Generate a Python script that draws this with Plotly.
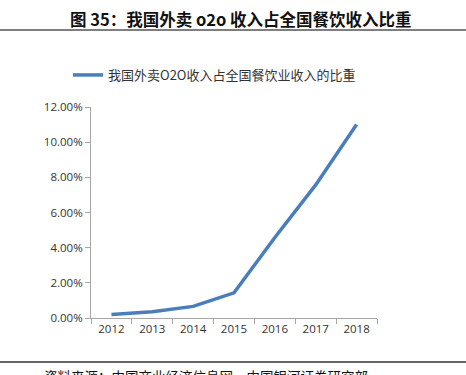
import plotly.graph_objects as go

years = ["2012", "2013", "2014", "2015", "2016", "2017", "2018"]
share = [0.0020, 0.0035, 0.0066, 0.0143, 0.0458, 0.0757, 0.1100]
series_name = "我国外卖O2O收入占全国餐饮业收入的比重"
title_text = "图 35：我国外卖 o2o 收入占全国餐饮收入比重"
source_text = "资料来源：中国商业经济信息网，中国银河证券研究部"

W, H = 466, 375
L, R, T, B = 91, 377, 107, 318

def px(x):
    return (x - L) / (R - L)

def py(y):
    return (B - y) / (B - T)

fig = go.Figure()
fig.add_trace(go.Scatter(
    x=years, y=share, mode="lines", name=series_name,
    line=dict(color="#4A7EBB", width=3.5),
))

fig.update_layout(
    width=W, height=H,
    margin=dict(l=L, r=W - R, t=T, b=H - B, autoexpand=False),
    paper_bgcolor="white", plot_bgcolor="white",
    showlegend=True,
    legend=dict(orientation="h", x=px(68), xanchor="left", y=py(75), yanchor="middle",
                font=dict(size=13, color="#333333", family="Noto Sans CJK SC"),
                itemwidth=30, bgcolor="rgba(0,0,0,0)"),
    font=dict(family="Open Sans, Liberation Sans", size=11, color="#404040"),
    xaxis=dict(type="category", range=[-0.5, 6.5], showline=True, linecolor="#A6A6A6",
               linewidth=1, ticks="outside", tickson="boundaries", ticklen=5,
               tickcolor="#A6A6A6", showgrid=False, automargin=False,
               tickfont=dict(size=11.5, color="#333333")),
    yaxis=dict(range=[0, 0.12], dtick=0.02, tickformat=".2%", showline=True,
               linecolor="#A6A6A6", linewidth=1, ticks="outside", ticklen=5,
               tickcolor="#A6A6A6", showgrid=False, zeroline=False, automargin=False,
               tickfont=dict(size=11.5, color="#333333")),
    shapes=[
        dict(type="line", xref="paper", yref="paper", x0=px(0), x1=px(W), y0=py(30), y1=py(30),
             line=dict(color="#555555", width=1.5)),
        dict(type="line", xref="paper", yref="paper", x0=px(0), x1=px(W), y0=py(362), y1=py(362),
             line=dict(color="#333333", width=1.5)),
    ],
    annotations=[
        dict(text="<b>" + title_text + "</b>", xref="paper", yref="paper", x=px(241), y=py(19),
             xanchor="center", yanchor="middle", showarrow=False,
             font=dict(size=16.5, color="#111111", family="Noto Sans CJK SC")),
        dict(text=source_text, xref="paper", yref="paper", x=px(42), y=py(364),
             xanchor="left", yanchor="top", showarrow=False,
             font=dict(size=13.5, color="#111111", family="Noto Sans CJK SC")),
    ],
)

fig.write_html("out.html", config={"displayModeBar": False},
               post_script="document.body.style.margin='0';document.body.style.overflow='hidden';")
